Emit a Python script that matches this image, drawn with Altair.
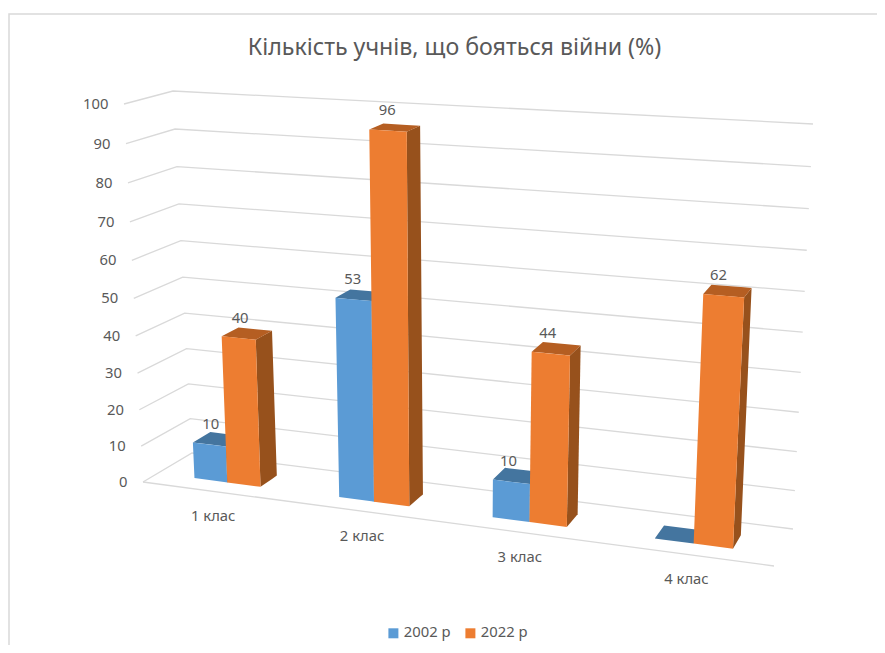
import altair as alt
import numpy as np
import pandas as pd

# ---- data ----
CATEGORIES = ["1 клас", "2 клас", "3 клас", "4 клас"]
SERIES = ["2002 р", "2022 р"]
VALUES_2002 = [10, 53, 10, 0]
VALUES_2022 = [40, 96, 44, 62]
LABELS_2002 = ["10", "53", "10", ""]
LABELS_2022 = ["40", "96", "44", "62"]
TICKS = [0, 10, 20, 30, 40, 50, 60, 70, 80, 90, 100]
TITLE = "Кількість учнів, що бояться війни (%)"

# ---- styling ----
FRONT = ["#5B9BD5", "#ED7D31"]
TOP = ["#44759F", "#B55E22"]
SIDE = ["#3B658C", "#97511C"]
GRID = "#D9D9D9"
TEXT = "#595959"
FONT = "Noto Sans"
FS = 14.8

# ---- 3D box of the plot, as seen on the page ----
FLB, FRB = np.array([143.0, 482.0]), np.array([774.0, 566.0])
BLB, BRB = np.array([192.0, 453.0]), np.array([793.0, 529.0])
FLT, FRT = np.array([124.0, 104.0]), np.array([796.0, 143.0])
BLT, BRT = np.array([173.0, 91.0]), np.array([813.0, 124.0])
PERSP_X, PERSP_V = 0.112, 0.056
DEPTH_FRONT, DEPTH_BACK = 0.30, 0.67
BAR_W = 0.058
CENTER_SHIFT = -0.001


def lerp(a, b, t):
    return a + (b - a) * t


def proj(s, w, v):
    u = s * (1 + PERSP_X * (s - 1))
    f = v / 100.0
    t = f * (1 + PERSP_V * (f - 1))
    front = lerp(lerp(FLB, FRB, u), lerp(FLT, FRT, u), t)
    back = lerp(lerp(BLB, BRB, u), lerp(BLT, BRT, u), t)
    return lerp(front, back, w)


def poly_rows(pts):
    pts = [tuple(p) for p in pts]
    xs = sorted({p[0] for p in pts})
    rows = []
    n = len(pts)
    for x in xs:
        ys = []
        for i in range(n):
            (x0, y0), (x1, y1) = pts[i], pts[(i + 1) % n]
            if min(x0, x1) <= x <= max(x0, x1):
                if x0 == x1:
                    ys += [y0, y1]
                else:
                    ys.append(y0 + (y1 - y0) * (x - x0) / (x1 - x0))
        rows.append({"x": x, "y": min(ys), "y2": max(ys)})
    return pd.DataFrame(rows)


X = alt.X("x:Q", scale=alt.Scale(domain=[8, 877], nice=False, zero=False), axis=None)
Y = alt.Y("y:Q", scale=alt.Scale(domain=[645, 8], nice=False, zero=False), axis=None)
layers = []

# frame
frame = pd.DataFrame({"k": [0, 1, 2], "x": [9, 9, 877], "y": [645, 14, 14]})
layers.append(alt.Chart(frame).mark_line(color=GRID, strokeWidth=1.5).encode(X, Y, order="k:Q"))

# gridlines
grid_rows = []
for v in TICKS:
    for k, p in enumerate([proj(0, 0, v), proj(0, 1, v), proj(1, 1, v)]):
        grid_rows.append({"level": v, "k": k, "x": p[0], "y": p[1]})
a, b = proj(0, 0, 0), proj(1, 0, 0)
grid_rows += [{"level": -1, "k": 0, "x": a[0], "y": a[1]}, {"level": -1, "k": 1, "x": b[0], "y": b[1]}]
layers.append(alt.Chart(pd.DataFrame(grid_rows)).mark_line(color=GRID, strokeWidth=1.3).encode(X, Y, detail="level:N", order="k:Q"))

color_scale = alt.Scale(domain=SERIES, range=FRONT)
legend = alt.Legend(
    orient="none", legendX=378, legendY=617.5, direction="horizontal", title=None,
    symbolType="square", symbolSize=100, symbolStrokeWidth=0, labelFont=FONT, labelFontSize=FS,
    labelColor=TEXT, columnPadding=12, labelOffset=3,
)

# bars
for i in range(len(CATEGORIES)):
    c = (i + 0.5) / 4 + CENTER_SHIFT
    for j, vals in enumerate([VALUES_2002, VALUES_2022]):
        v = vals[i]
        s0, s1 = (c - BAR_W, c) if j == 0 else (c, c + BAR_W)
        wf, wb = DEPTH_FRONT, DEPTH_BACK
        side = [proj(s1, wf, 0), proj(s1, wb, 0), proj(s1, wb, v), proj(s1, wf, v)]
        top = [proj(s0, wf, v), proj(s0, wb, v), proj(s1, wb, v), proj(s1, wf, v)]
        front = [proj(s0, wf, 0), proj(s1, wf, 0), proj(s1, wf, v), proj(s0, wf, v)]
        if v > 0:
            layers.append(alt.Chart(poly_rows(side)).mark_area(color=SIDE[j]).encode(X, Y, y2="y2:Q"))
        layers.append(alt.Chart(poly_rows(top)).mark_area(color=TOP[j]).encode(X, Y, y2="y2:Q"))
        df = poly_rows(front)
        df["series"] = SERIES[j]
        layers.append(alt.Chart(df).mark_area().encode(
            X, Y, y2="y2:Q",
            color=alt.Color("series:N", scale=color_scale, legend=legend),
        ))

# value labels
lab_rows = []
for i in range(len(CATEGORIES)):
    c = (i + 0.5) / 4
    for j, (vals, labs) in enumerate([(VALUES_2002, LABELS_2002), (VALUES_2022, LABELS_2022)]):
        if not labs[i]:
            continue
        s0, s1 = (c - BAR_W, c) if j == 0 else (c, c + BAR_W)
        m = proj((s0 + s1) / 2, DEPTH_FRONT, vals[i])
        lab_rows.append({"x": m[0] + 2 - 9 * c, "y": m[1] - 19.5, "t": labs[i]})
layers.append(alt.Chart(pd.DataFrame(lab_rows)).mark_text(font=FONT, fontSize=FS, color=TEXT, align="center", baseline="middle").encode(X, Y, text="t:N"))

# value-axis labels
tick_rows = []
for v in TICKS:
    p = proj(0, 0, v)
    tick_rows.append({"x": p[0] - 15.5, "y": p[1] + 1, "t": str(v)})
layers.append(alt.Chart(pd.DataFrame(tick_rows)).mark_text(font=FONT, fontSize=FS, color=TEXT, align="right", baseline="middle").encode(X, Y, text="t:N"))

# category labels
cat_rows = []
for i, name in enumerate(CATEGORIES):
    p = proj((i + 0.5) / 4, 0, 0)
    cat_rows.append({"x": p[0] - 1, "y": p[1] + 26, "t": name})
layers.append(alt.Chart(pd.DataFrame(cat_rows)).mark_text(font=FONT, fontSize=FS, color=TEXT, align="center", baseline="middle").encode(X, Y, text="t:N"))

chart = alt.layer(*layers).properties(
    width=869, height=637, padding=0,
    autosize=alt.AutoSizeParams(type="none"),
    title=alt.TitleParams(TITLE, font=FONT, fontSize=23.2, fontWeight="normal", color=TEXT,
                          anchor="middle", dx=12, dy=52, offset=0),
    background="white",
).configure_view(stroke=None)

chart.save("out.html", embed_options={"renderer": "svg", "actions": False})
